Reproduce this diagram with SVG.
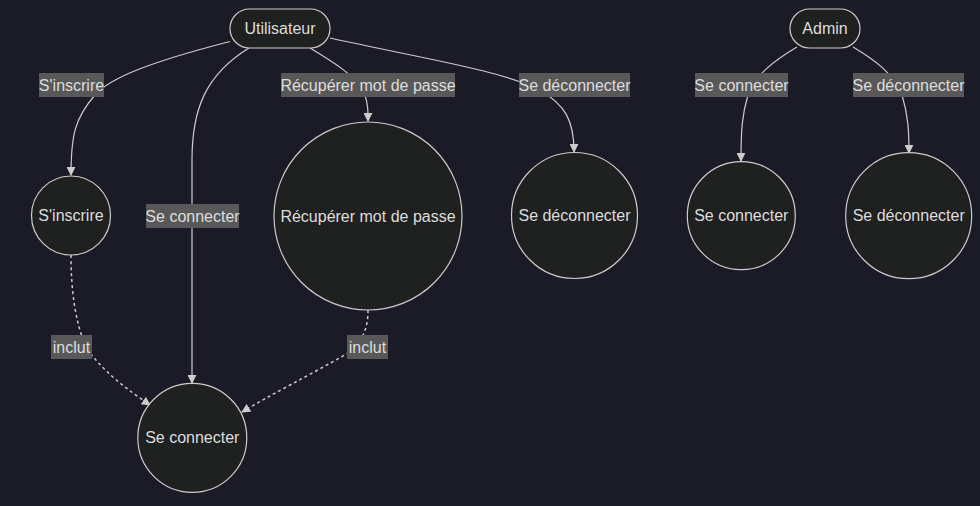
<svg xmlns="http://www.w3.org/2000/svg" width="980" height="506" viewBox="0 0 980 506">
<defs>
<style>
.bg{fill:#1b1a27}
.node{fill:#1f2020;stroke:#cccccc;stroke-width:1.2}
.t{font-family:"Liberation Sans",Arial,sans-serif;font-size:16px;fill:#dddddd;text-anchor:middle;dominant-baseline:central}
.edge{fill:none;stroke:#cccccc;stroke-width:1.2}
.dash{stroke-dasharray:3,3;stroke-width:1.5}
.lbl{fill:#585858}
</style>
<marker id="arr" viewBox="0 0 10 10" refX="9" refY="5" markerWidth="9" markerHeight="9" orient="auto" markerUnits="userSpaceOnUse">
<path d="M0,0 L10,5 L0,10 z" fill="#cccccc"/>
</marker>
</defs>
<rect class="bg" x="0" y="0" width="980" height="506"/>
<g id="connectors">
<path class="edge" marker-end="url(#arr)" d="M230,41.5 C150,62 110,78 95,95 C75,118 71,135 71,175"/>
<path class="edge" marker-end="url(#arr)" d="M249,48 C205,75 192,110 192,160 L192,383"/>
<path class="edge" marker-end="url(#arr)" d="M310,48 C330,60 360,78 365,95 C368,105 368,110 368,121"/>
<path class="edge" marker-end="url(#arr)" d="M330,38 C420,58 500,70 540,90 C565,105 574,120 574,152"/>
<path class="edge" marker-end="url(#arr)" d="M797,47 C775,60 755,75 748,95 C742,115 741,130 741,161"/>
<path class="edge" marker-end="url(#arr)" d="M853,47 C875,60 895,75 902,95 C908,115 909,130 909,153"/>
<path class="edge dash" marker-end="url(#arr)" d="M71,255 C71,290 75,320 85,345 C100,370 128,390 150,405"/>
<path class="edge dash" marker-end="url(#arr)" d="M368,310 C368,330 362,340 350,352 C310,375 270,395 242,412"/>
<g id="edge-labels">
<rect class="lbl" x="39" y="73" width="65" height="24"/><text class="t" x="71.5" y="85">S'inscrire</text>
<rect class="lbl" x="146" y="204" width="93" height="24"/><text class="t" x="192.5" y="216">Se connecter</text>
<rect class="lbl" x="281" y="73" width="174" height="24"/><text class="t" x="368" y="85">Récupérer mot de passe</text>
<rect class="lbl" x="519" y="73" width="111" height="24"/><text class="t" x="574.5" y="85">Se déconnecter</text>
<rect class="lbl" x="695" y="73" width="93" height="24"/><text class="t" x="741.5" y="85">Se connecter</text>
<rect class="lbl" x="853" y="73" width="111" height="24"/><text class="t" x="908.5" y="85">Se déconnecter</text>
<rect class="lbl" x="51" y="335" width="41" height="24"/><text class="t" x="71.5" y="347">inclut</text>
<rect class="lbl" x="347" y="335" width="41" height="24"/><text class="t" x="367.5" y="347">inclut</text>
</g>
</g>
<g id="utilisateur"><rect class="node" x="230" y="9" width="100" height="39" rx="19.5"/><text class="t" x="280" y="28.5">Utilisateur</text></g>
<g id="admin"><rect class="node" x="790" y="9" width="70" height="39" rx="19.5"/><text class="t" x="825" y="28.5">Admin</text></g>
<g id="inscrire"><circle class="node" cx="71" cy="215.5" r="39.5"/><text class="t" x="71" y="215.5">S'inscrire</text></g>
<g id="recuperer"><circle class="node" cx="368" cy="216" r="94"/><text class="t" x="368" y="216">Récupérer mot de passe</text></g>
<g id="deconnecter-u"><circle class="node" cx="574.5" cy="215.5" r="63"/><text class="t" x="574.5" y="215.5">Se déconnecter</text></g>
<g id="connecter-a"><circle class="node" cx="741.3" cy="215.7" r="54"/><text class="t" x="741.3" y="215.7">Se connecter</text></g>
<g id="deconnecter-a"><circle class="node" cx="908.7" cy="215.7" r="63"/><text class="t" x="908.7" y="215.7">Se déconnecter</text></g>
<g id="connecter"><circle class="node" cx="192.3" cy="437.8" r="54.5"/><text class="t" x="192.3" y="437.8">Se connecter</text></g>
</svg>
